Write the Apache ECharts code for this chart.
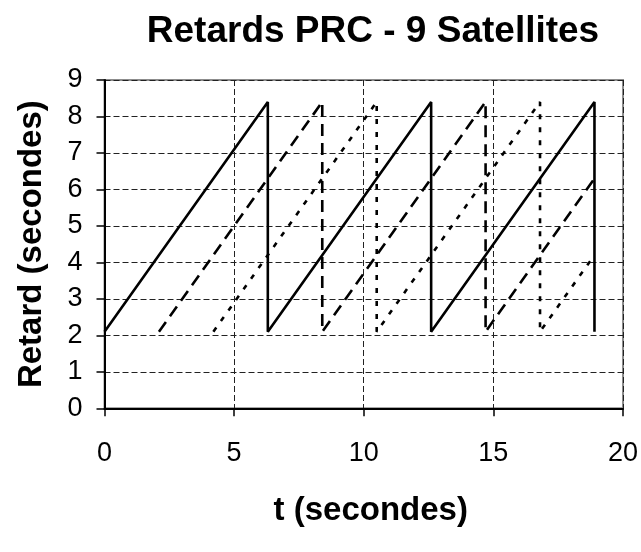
<!DOCTYPE html>
<html>
<head>
<meta charset="utf-8">
<script src="https://cdn.jsdelivr.net/npm/echarts@6/dist/echarts.min.js"></script>
<style>
html,body{margin:0;padding:0;background:#fff;}
#chart{width:641px;height:552px;}
</style>
</head>
<body>
<div id="chart"></div>
<script>
// Data
const titleText = "Retards PRC - 9 Satellites";
const xAxisTitle = "t (secondes)";
const yAxisTitle = "Retard (secondes)";

const solidX  = [0, 6.3, 6.3, 12.6, 12.6, 18.9, 18.9];
const solidY  = [2.1, 8.4, 2.1, 8.4, 2.1, 8.4, 2.1];
const dashedX = [2.1, 8.4, 8.4, 14.7, 14.7, 18.9];
const dashedY = [2.1, 8.4, 2.1, 8.4, 2.1, 6.3];
const dottedX = [4.2, 10.5, 10.5, 16.8, 16.8, 18.9];
const dottedY = [2.1, 8.4, 2.1, 8.4, 2.1, 4.2];

const xTicks = [0, 5, 10, 15, 20];
const yTicks = [0, 1, 2, 3, 4, 5, 6, 7, 8, 9];

function pairs(xs, ys) { return xs.map((x, i) => [x, ys[i]]); }

const FONT = "'Liberation Sans', Arial, sans-serif";
const chart = echarts.init(document.getElementById('chart'), null, {renderer: 'canvas'});

function lineSeries(xs, ys, type) {
  return {
    type: 'line',
    data: pairs(xs, ys),
    showSymbol: false,
    symbol: 'none',
    animation: false,
    lineStyle: {color: '#000', width: 2.6, type: type},
    z: 5
  };
}

chart.setOption({
  animation: false,
  backgroundColor: '#fff',
  title: {
    text: titleText,
    left: 368,
    textAlign: 'center',
    top: 8,
    textStyle: {fontFamily: FONT, fontWeight: 'bold', fontSize: 37, color: '#000'}
  },
  grid: {
    left: 104.5, right: 15.3, top: 80, bottom: 143.7,
    show: true, borderColor: '#8c8c8c', borderWidth: 2, backgroundColor: 'transparent'
  },
  xAxis: {
    type: 'value',
    min: xTicks[0], max: xTicks[xTicks.length - 1], interval: 5,
    name: xAxisTitle,
    nameLocation: 'middle',
    nameGap: 86,
    nameTextStyle: {fontFamily: FONT, fontWeight: 'bold', fontSize: 33, color: '#000', padding: [0, 0, 0, 14]},
    axisLine: {show: true, lineStyle: {color: '#000', width: 2}},
    axisTick: {show: true, inside: false, length: 8, lineStyle: {color: '#000', width: 1.5}},
    axisLabel: {margin: 32, fontFamily: FONT, fontSize: 27, color: '#000'},
    splitLine: {show: true, lineStyle: {color: '#222', width: 1, type: [6, 3]}}
  },
  yAxis: {
    type: 'value',
    min: yTicks[0], max: yTicks[yTicks.length - 1], interval: 1,
    name: yAxisTitle,
    nameLocation: 'middle',
    nameGap: 56,
    nameRotate: 90,
    nameTextStyle: {fontFamily: FONT, fontWeight: 'bold', fontSize: 33, color: '#000'},
    axisLine: {show: true, lineStyle: {color: '#000', width: 2}},
    axisTick: {show: true, inside: false, length: 8, lineStyle: {color: '#000', width: 1.5}},
    axisLabel: {margin: 22, fontFamily: FONT, fontSize: 27, color: '#000'},
    splitLine: {show: true, lineStyle: {color: '#222', width: 1, type: [6, 3]}}
  },
  series: [
    lineSeries(solidX, solidY, 'solid'),
    lineSeries(dashedX, dashedY, [12, 7]),
    lineSeries(dottedX, dottedY, [5, 8])
  ]
});
</script>
</body>
</html>
